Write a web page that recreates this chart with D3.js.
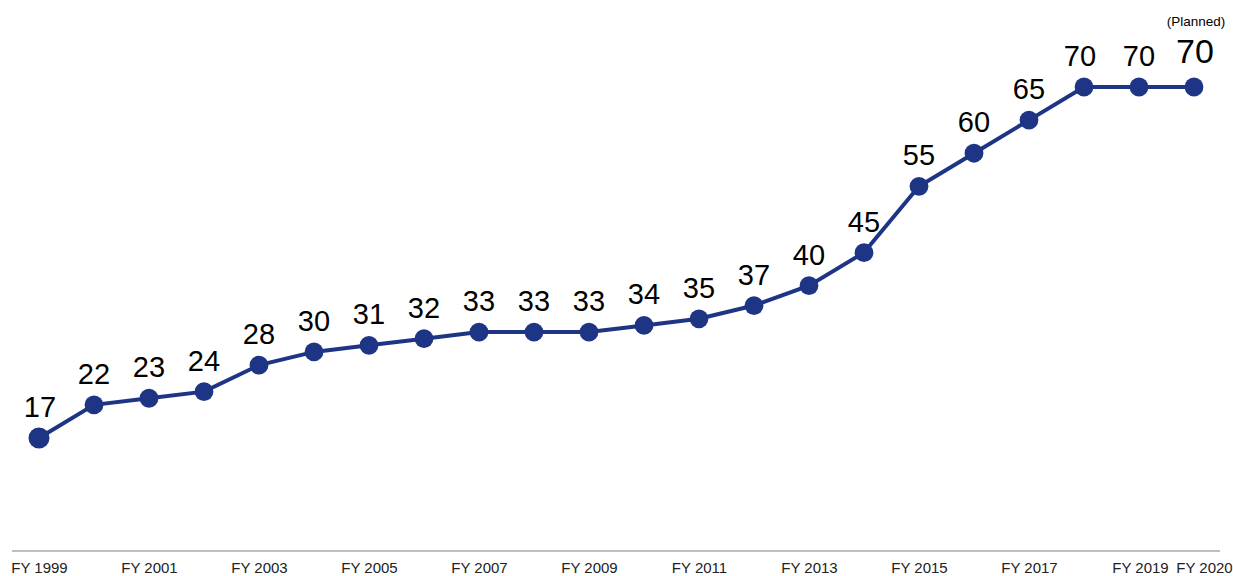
<!DOCTYPE html>
<html><head><meta charset="utf-8">
<script src="https://cdn.jsdelivr.net/npm/d3@7"></script>
<style>html,body{margin:0;padding:0;background:#fff;}svg{display:block;}</style>
</head><body>
<svg id="c" width="1233" height="576"></svg>
<script>
const years = ["FY 1999","FY 2000","FY 2001","FY 2002","FY 2003","FY 2004","FY 2005","FY 2006","FY 2007","FY 2008","FY 2009","FY 2010","FY 2011","FY 2012","FY 2013","FY 2014","FY 2015","FY 2016","FY 2017","FY 2018","FY 2019","FY 2020"];
const values = [17,22,23,24,28,30,31,32,33,33,33,34,35,37,40,45,55,60,65,70,70,70];
const tickLabels = ["FY 1999","FY 2001","FY 2003","FY 2005","FY 2007","FY 2009","FY 2011","FY 2013","FY 2015","FY 2017","FY 2019","FY 2020"];
const plannedNote = "(Planned)";

const svg = d3.select("#c");
const color = "#1e3585";
const font = "Liberation Sans, Arial, sans-serif";
const x = d3.scalePoint().domain(years).range([39, 1194]);
const y = d3.scaleLinear().domain([17, 70]).range([438, 87]);

// axis
const axis = d3.axisBottom(x).tickValues(tickLabels).tickSize(0).tickPadding(11);
const ag = svg.append("g").attr("transform","translate(0,551)").call(axis);
ag.select(".domain").remove();
svg.append("line").attr("x1",12).attr("x2",1220).attr("y1",551).attr("y2",551)
  .attr("stroke","#808080").attr("stroke-width",1.2);
ag.selectAll("text").attr("font-family",font)
  .attr("font-size",15).attr("fill","#222")
  .attr("dx", d => d==="FY 2020" ? 10 : (d==="FY 2019" ? 1 : 0));

// line
svg.append("path").datum(values)
  .attr("d", d3.line().x((d,i)=>x(years[i])).y(d=>y(d)))
  .attr("fill","none").attr("stroke",color).attr("stroke-width",4);

svg.selectAll("circle.pt").data(values).join("circle")
  .attr("class","pt")
  .attr("cx",(d,i)=>x(years[i])).attr("cy",d=>y(d))
  .attr("r",(d,i)=> i===0 ? 10.5 : 9.4).attr("fill",color);

const last = values.length-1;
svg.selectAll("text.lbl").data(values).join("text")
  .attr("class","lbl")
  .attr("x",(d,i)=>x(years[i]) + (i===0 ? 1 : 0) + (i===last-2 ? -4 : 0) + (i===last ? 1 : 0))
  .attr("y",(d,i)=>y(d) - (i===last ? 24 : 21))
  .attr("text-anchor","middle")
  .attr("font-family",font)
  .attr("font-size",(d,i)=> i===last ? 34 : 29)
  .attr("fill","#000")
  .text(d=>d);

svg.append("text").attr("x", x(years[last]) + 2).attr("y", 26)
  .attr("text-anchor","middle")
  .attr("font-family",font)
  .attr("font-size",13.5).attr("fill","#000").text(plannedNote);
</script>
</body></html>
